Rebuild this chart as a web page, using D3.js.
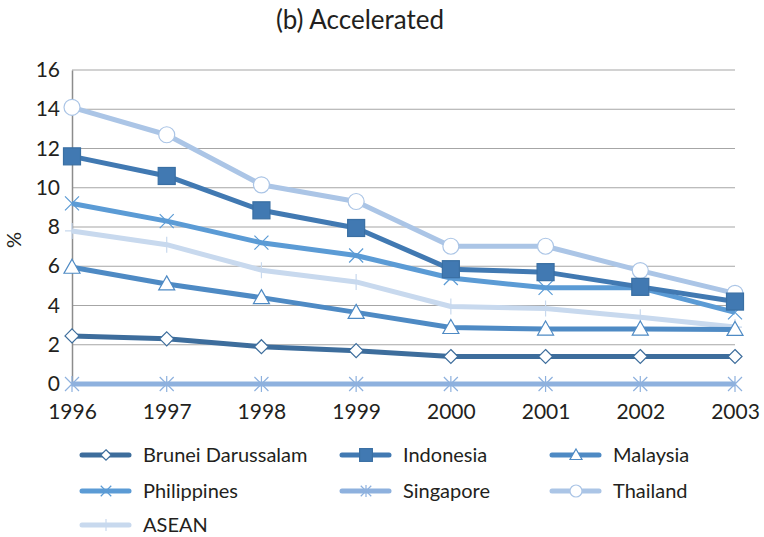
<!DOCTYPE html>
<html>
<head>
<meta charset="utf-8">
<script src="https://cdn.jsdelivr.net/npm/d3@7"></script>
<style>
	body { margin: 0; background: #fff; }
	svg text { font-family: Lato, "Open Sans", sans-serif; fill: #231f20; }
</style>
</head>
<body>
<div id="chart"></div>
<script>
const years = [1996, 1997, 1998, 1999, 2000, 2001, 2002, 2003];
const yTicks = [0, 2, 4, 6, 8, 10, 12, 14, 16];
const seriesNames = ['Brunei Darussalam', 'Indonesia', 'Malaysia', 'Philippines', 'Singapore', 'Thailand', 'ASEAN'];
const bruneiValues = [2.45, 2.3, 1.9, 1.7, 1.4, 1.4, 1.4, 1.4];
const indonesiaValues = [11.6, 10.6, 8.85, 7.95, 5.85, 5.7, 4.95, 4.2];
const malaysiaValues = [5.95, 5.1, 4.4, 3.65, 2.88, 2.8, 2.8, 2.78];
const philippinesValues = [9.2, 8.3, 7.2, 6.55, 5.4, 4.9, 4.9, 3.65];
const singaporeValues = [0, 0, 0, 0, 0, 0, 0, 0];
const thailandValues = [14.1, 12.7, 10.15, 9.3, 7.02, 7.02, 5.78, 4.62];
const aseanValues = [7.8, 7.1, 5.8, 5.2, 3.95, 3.85, 3.4, 2.9];

const vizPalette = ['#3d6d9c', '#4179b2', '#4e8ac4', '#5b9bd5', '#8eb1de', '#abc5e6', '#c8d9ee'];
const markers = ['diamond', 'square', 'triangle', 'cross', 'star', 'circle', 'plus'];

const width = 764, height = 537;
const margin = {top: 70, right: 29, bottom: 153, left: 72};

var data = [bruneiValues, indonesiaValues, malaysiaValues, philippinesValues, singaporeValues, thailandValues, aseanValues]
	.map((v, i) => ({name: seriesNames[i], values: v, color: vizPalette[i], marker: markers[i]}));

var svg = d3.select('#chart').append('svg')
	.attr('width', width)
	.attr('height', height);

var x = d3.scalePoint().domain(years).range([margin.left, width - margin.right]);
var y = d3.scaleLinear().domain([0, 16]).range([height - margin.bottom, margin.top]);

svg.append('text')
	.attr('x', 360).attr('y', 29)
	.attr('text-anchor', 'middle')
	.style('font-size', '26px')
	.text('(b) Accelerated');

// gridlines
svg.append('g')
	.selectAll('line')
	.data(yTicks.filter(d => d > 0))
	.enter().append('line')
		.attr('x1', margin.left).attr('x2', width - margin.right)
		.attr('y1', d => y(d)).attr('y2', d => y(d))
		.attr('stroke', '#a6a6a6').attr('stroke-width', 1.2);

var yAxis = svg.append('g')
	.attr('transform', 'translate(' + margin.left + ',0)')
	.call(d3.axisLeft(y).tickValues(yTicks).tickSize(0).tickPadding(12));
yAxis.select('.domain').attr('stroke', '#8c8c8c').attr('stroke-width', 1.5);
yAxis.selectAll('text').style('font-size', '21px').style('font-family', 'Lato, sans-serif').attr('fill', '#231f20');

var xAxis = svg.append('g')
	.attr('transform', 'translate(0,' + y(0) + ')')
	.call(d3.axisBottom(x).tickSize(0).tickPadding(20).tickFormat(d3.format('d')));
xAxis.select('.domain').remove();
xAxis.selectAll('text').style('font-size', '21px').style('font-family', 'Lato, sans-serif').attr('fill', '#231f20');

svg.append('text')
	.attr('transform', 'translate(21,240) rotate(-90)')
	.attr('text-anchor', 'middle')
	.style('font-size', '20px')
	.text('%');

function drawMarker(g, type, color, k) {
	k = k ?? 1;
	var sw = 1.2;
	if (type == 'diamond') {
		g.append('path').attr('d', 'M0,-7L7,0L0,7L-7,0Z')
			.attr('fill', '#fff').attr('stroke', color).attr('stroke-width', sw);
	} else if (type == 'square') {
		g.append('rect').attr('x', -8.5).attr('y', -8.5).attr('width', 17).attr('height', 17)
			.attr('fill', color).attr('stroke', '#3a6fa3').attr('stroke-width', 0.8);
	} else if (type == 'triangle') {
		g.append('path').attr('d', 'M0,-8L8,6L-8,6Z')
			.attr('fill', '#fff').attr('stroke', color).attr('stroke-width', sw);
	} else if (type == 'cross') {
		g.append('path').attr('d', 'M-7,-7L7,7M-7,7L7,-7')
			.attr('stroke', color).attr('stroke-width', sw);
	} else if (type == 'star') {
		g.append('path').attr('d', 'M-7,-7L7,7M-7,7L7,-7M0,-8L0,8')
			.attr('stroke', color).attr('stroke-width', sw);
	} else if (type == 'circle') {
		g.append('circle').attr('r', 8)
			.attr('fill', '#fff').attr('stroke', color).attr('stroke-width', sw);
	} else if (type == 'plus') {
		g.append('path').attr('d', 'M0,-8L0,8M-7,0L7,0')
			.attr('stroke', color).attr('stroke-width', sw);
	}
	g.attr('transform', g.attr('transform') + ' scale(' + k + ')');
	g.selectAll('path,rect,circle').attr('stroke-width', sw / k);
}

var line = d3.line().x((d, i) => x(years[i])).y(d => y(d));

// ASEAN underneath, Brunei on top
var drawOrder = [6, 5, 4, 3, 2, 1, 0];
drawOrder.forEach(i => {
	var s = data[i];
	svg.append('path')
		.datum(s.values)
		.attr('d', line)
		.attr('fill', 'none')
		.attr('stroke', s.color)
		.attr('stroke-width', 5)
		.attr('stroke-linejoin', 'round');
	s.values.forEach((v, j) => {
		var g = svg.append('g').attr('transform', 'translate(' + x(years[j]) + ',' + y(v) + ')');
		drawMarker(g, s.marker, s.color);
	});
});

// legend
var legendCols = [82, 342, 552];
var legendRows = [455, 491, 525];
data.forEach((s, i) => {
	var lx = legendCols[i % 3], ly = legendRows[Math.floor(i / 3)];
	var g = svg.append('g').attr('transform', 'translate(' + lx + ',' + ly + ')');
	g.append('line').attr('x1', 0).attr('x2', 47).attr('y1', 0).attr('y2', 0)
		.attr('stroke', s.color).attr('stroke-width', 5).attr('stroke-linecap', 'round');
	var mg = g.append('g').attr('transform', 'translate(24,0)');
	drawMarker(mg, s.marker, s.color, 0.75);
	g.append('text').attr('x', 61).attr('y', 7)
		.style('font-size', '20px')
		.text(s.name);
});
</script>
</body>
</html>
